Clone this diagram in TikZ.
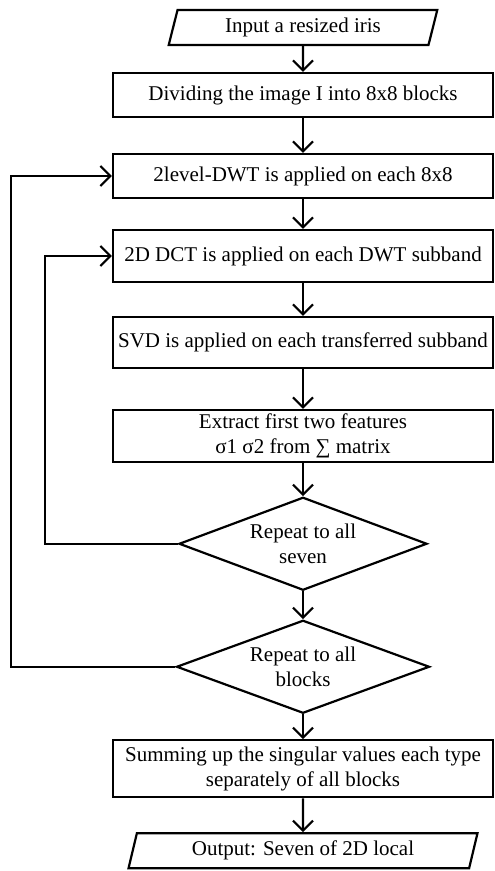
\documentclass[tikz,border=0pt]{standalone}
\usepackage{fontspec}
\setmainfont{Liberation Serif}
\usetikzlibrary{arrows.meta,positioning,shapes.geometric}
\tikzset{
  proc/.style={draw, line width=1.1pt, rectangle, align=center, font=\fontsize{10.5}{12.5}\selectfont, inner sep=2pt, minimum width=190pt, minimum height=22pt},
  io/.style={proc, trapezium, trapezium left angle=78, trapezium right angle=102, trapezium stretches=true, minimum height=17.5pt},
  decision/.style={proc, diamond, aspect=2.67, inner sep=0pt, minimum width=124pt, minimum height=46.5pt},
  arrow/.style={-{Straight Barb[length=5pt,width=10pt]}, line width=1.1pt}
}
\begin{document}
\begin{tikzpicture}[x=0.5pt, y=-0.5pt]
\useasboundingbox (0,0) rectangle (494,871);
\node[io, minimum width=134.5pt] (input) at (303,27.5) {Input a resized iris};
\node[proc, below=12.9pt of input] (divide) {Dividing the image I into 8x8 blocks};
\node[proc, below=17.4pt of divide] (dwt) {2level-DWT is applied on each 8x8};
\node[proc, below=14.9pt of dwt, minimum height=26pt] (dct) {2D DCT is applied on each DWT subband};
\node[proc, below=16.4pt of dct, minimum height=25.5pt] (svd) {SVD is applied on each transferred subband};
\node[proc, below=19.9pt of svd, minimum height=26pt] (extract) {Extract first two features\\σ1 σ2 from ∑ matrix};
\node[decision, below=16.4pt of extract] (seven) {Repeat to all\\seven};
\node[decision, below=13.9pt of seven, minimum width=126.5pt] (blocks) {Repeat to all\\blocks};
\node[proc, below=12.4pt of blocks, minimum height=28.5pt] (sum) {Summing up the singular values each type\\separately of all blocks};
\node[io, below=16.9pt of sum, minimum width=174.5pt] (output) {Output: Seven of 2D local};
\draw[arrow] (input) -- (divide);
\draw[arrow] (divide) -- (dwt);
\draw[arrow] (dwt) -- (dct);
\draw[arrow] (dct) -- (svd);
\draw[arrow] (svd) -- (extract);
\draw[arrow] (extract) -- (seven);
\draw[arrow] (seven) -- (blocks);
\draw[arrow] (blocks) -- (sum);
\draw[arrow] (sum) -- (output);
% inner loop back to the DCT step, outer loop back to the DWT step
\draw[arrow] (seven.west) -- ++(-133,0) |- (dct.west);
\draw[arrow] (blocks.west) -- ++(-164.5,0) |- (dwt.west);
\end{tikzpicture}
\end{document}
